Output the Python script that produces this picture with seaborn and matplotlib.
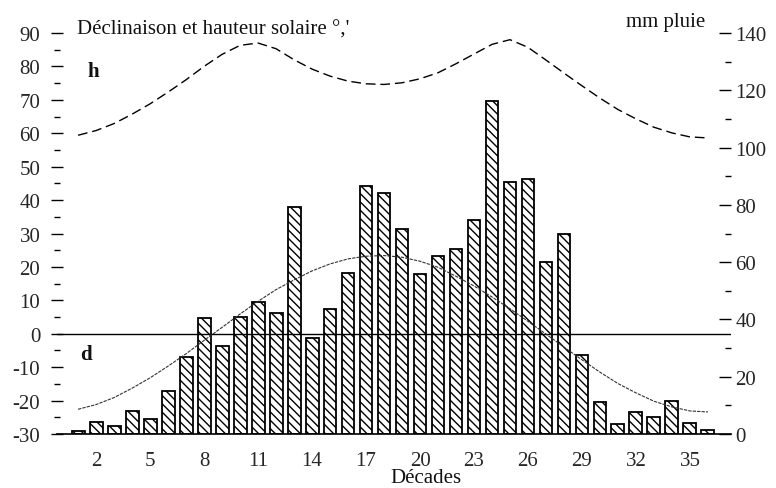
import matplotlib
matplotlib.use("Agg")
import matplotlib.pyplot as plt
import numpy as np
import pandas as pd
import seaborn as sns
from matplotlib.ticker import MultipleLocator

# ---- data ----
decades = list(range(1, 37))
rain_mm = [1.0, 4.3, 2.9, 7.9, 5.1, 15.0, 27.0, 40.4, 30.6, 40.8, 46.0, 42.2,
           79.1, 33.5, 43.7, 56.3, 86.7, 84.2, 71.6, 55.8, 62.1, 64.6, 74.8, 116.1,
           88.0, 89.2, 60.1, 70.0, 27.6, 11.3, 3.4, 7.7, 5.9, 11.5, 3.8, 1.5]
declinaison = [-22.6, -21.2, -19.1, -16.3, -13.2, -9.7, -6.0, -2.0, 1.9, 5.9, 9.7, 13.2,
               16.1, 18.8, 20.9, 22.4, 23.2, 23.4, 22.9, 21.7, 19.9, 17.2, 14.3, 11.0,
               7.5, 3.7, -0.1, -4.0, -7.8, -11.5, -14.9, -17.7, -20.2, -21.9, -23.1, -23.4]
hauteur = [59.4, 60.8, 62.9, 65.7, 68.8, 72.3, 76.0, 80.0, 83.6, 86.3, 87.0, 85.3,
           82.0, 79.2, 77.1, 75.6, 74.8, 74.6, 75.1, 76.3, 78.1, 80.8, 83.7, 86.6,
           88.0, 85.7, 81.9, 78.0, 74.2, 70.5, 67.1, 64.3, 61.8, 60.1, 58.9, 58.6]
xtick_values = [2, 5, 8, 11, 14, 17, 20, 23, 26, 29, 32, 35]
deg_ticks = list(range(-30, 91, 10))
mm_ticks = list(range(0, 141, 20))

sns.set_theme(style="white")
plt.rcParams['font.family'] = ['Liberation Serif', 'DejaVu Serif']
plt.rcParams['axes.unicode_minus'] = False
plt.rcParams['hatch.linewidth'] = 1.0
plt.rcParams['hatch.color'] = 'black'

BS = chr(92)
FS = 15
W, H = 776, 489
fig = plt.figure(figsize=(W / 100, H / 100), dpi=100)
ax = fig.add_axes([57 / W, 54 / H, 674 / W, 401 / H])

df = pd.DataFrame({'decade': decades, 'mm': rain_mm})
sns.barplot(data=df, x='decade', y='mm', native_scale=True, width=0.72,
            color='white', saturation=1, edgecolor='black', linewidth=1.3,
            hatch=BS * 4, errorbar=None, ax=ax)

ax2 = ax.twinx()

ax.set_xlim(-0.17, 37.28)
ax.set_ylim(0, 140)
ax.set_xlabel('')
ax.set_ylabel('')
ax.yaxis.tick_right()
ax.set_yticks(mm_ticks)
ax.yaxis.set_minor_locator(MultipleLocator(10))
ax.tick_params(axis='y', which='major', direction='in', length=9, width=1.0,
               pad=3, labelsize=FS, right=True, left=False, labelright=True,
               labelleft=False, color='black')
ax.tick_params(axis='y', which='minor', direction='in', length=4, width=1.0,
               right=True, left=False, color='black')
ax.set_xticks(xtick_values)
ax.set_xticklabels([str(v) for v in xtick_values])
ax.tick_params(axis='x', length=0, pad=12, labelsize=FS)
for s in ['top', 'left', 'right']:
    ax.spines[s].set_visible(False)
ax.spines['bottom'].set_color('black')
ax.spines['bottom'].set_linewidth(1.2)

ax2.set_ylim(-30, 90)
ax2.yaxis.tick_left()
ax2.set_yticks(deg_ticks)
ax2.yaxis.set_minor_locator(MultipleLocator(5))
ax2.tick_params(axis='y', which='major', direction='inout', length=8, width=1.0,
                pad=8, labelsize=FS, left=True, right=False, labelleft=True,
                labelright=False, color='black')
ax2.tick_params(axis='y', which='minor', direction='inout', length=5, width=1.0,
                left=True, right=False, color='black')
for s in ax2.spines.values():
    s.set_visible(False)

ax2.axhline(0, color='black', lw=1.0)
sns.lineplot(x=decades, y=hauteur, ax=ax2, color='black', lw=1.0,
             linestyle=(0, (7, 3.5)))
sns.lineplot(x=decades, y=declinaison, ax=ax2, color='#333333', lw=0.8,
             linestyle=(0, (3, 1)))
ax2.set_xlabel('')
ax2.set_ylabel('')

fig.text(77 / W, 1 - 35 / H, "Déclinaison et hauteur solaire °,'", ha='left',
         va='baseline', fontsize=FS, color='#111111')
fig.text(705 / W, 1 - 27 / H, "mm pluie", ha='right', va='baseline',
         fontsize=FS, color='#111111')
fig.text(93 / W, 1 - 72 / H, "h", ha='center', va='center', fontsize=FS,
         fontweight='bold', color='#111111')
fig.text(86 / W, 1 - 355 / H, "d", ha='center', va='center', fontsize=FS,
         fontweight='bold', color='#111111')
fig.text(426 / W, 1 - 483 / H, "Décades", ha='center', va='baseline',
         fontsize=FS, color='#111111')

fig.savefig('out.png', dpi=100)
